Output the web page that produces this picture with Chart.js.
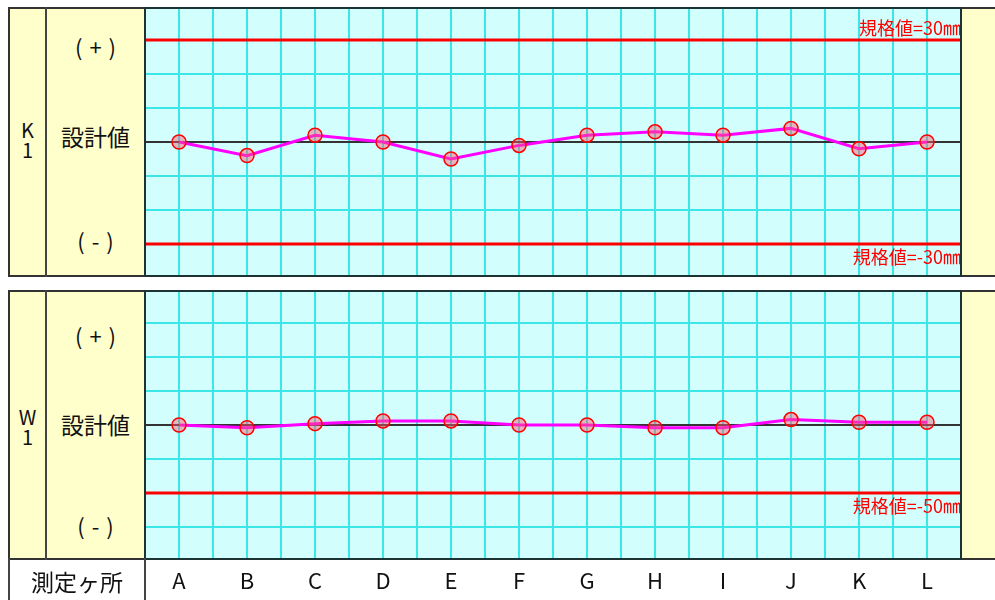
<!DOCTYPE html>
<html>
<head>
<meta charset="utf-8">
<script src="https://cdn.jsdelivr.net/npm/chart.js@4.4.1/dist/chart.umd.min.js"></script>
<style>
  body { margin: 0; background: #fff; font-family: "Noto Sans CJK JP", "Noto Sans", sans-serif; }
  #wrap { position: relative; width: 995px; height: 600px; overflow: hidden; }
  .abs { position: absolute; box-sizing: border-box; }
  .panel { background: #ffffcc; border: 2px solid #333; border-right: none; }
  .vline { background: #444; width: 2px; }
  .frame { border: 2px solid #1c3333; pointer-events: none; }
  .lbl { position: absolute; box-sizing: border-box; display: flex; align-items: center; justify-content: center;
         text-align: center; color: #111; white-space: nowrap; }
  .pm { font-size: 22px; letter-spacing: 7px; padding-left: 7px; }
  canvas { position: absolute; }
</style>
</head>
<body>
<div id="wrap">
  <!-- 上段 K1 -->
  <div class="abs panel" style="left:8px;top:7px;width:987px;height:270px;"></div>
  <div class="abs vline" style="left:45px;top:7px;height:270px;"></div>
  <div class="lbl" style="left:9px;top:119px;width:37px;height:42px;font-size:20px;line-height:20px;">K<br>1</div>
  <div class="lbl pm" style="left:46px;top:31px;width:99px;height:30px;">(+)</div>
  <div class="lbl" style="left:46px;top:121px;width:99px;height:30px;font-size:23px;">設計値</div>
  <div class="lbl pm" style="left:46px;top:225px;width:99px;height:30px;">(-)</div>
  <canvas id="chart-k1" width="816" height="268" style="left:145px;top:8px;"></canvas>
  <div class="abs frame" style="left:144px;top:7px;width:818px;height:270px;"></div>

  <!-- 下段 W1 -->
  <div class="abs panel" style="left:8px;top:290px;width:987px;height:270px;"></div>
  <div class="abs vline" style="left:45px;top:290px;height:270px;"></div>
  <div class="lbl" style="left:9px;top:406px;width:37px;height:42px;font-size:20px;line-height:20px;">W<br>1</div>
  <div class="lbl pm" style="left:46px;top:320px;width:99px;height:30px;">(+)</div>
  <div class="lbl" style="left:46px;top:409px;width:99px;height:30px;font-size:23px;">設計値</div>
  <div class="lbl pm" style="left:46px;top:510px;width:99px;height:30px;">(-)</div>
  <canvas id="chart-w1" width="816" height="309" style="left:145px;top:291px;"></canvas>
  <div class="abs frame" style="left:144px;top:290px;width:818px;height:270px;"></div>

  <!-- 測定ヶ所 -->
  <div class="abs" style="left:8px;top:558px;width:138px;height:42px;border-left:2px solid #444;border-right:2px solid #444;"></div>
  <div class="lbl" style="left:10px;top:566px;width:134px;height:30px;font-size:23px;">測定ヶ所</div>
</div>

<script>
const points   = ['A', 'B', 'C', 'D', 'E', 'F', 'G', 'H', 'I', 'J', 'K', 'L'];
const k1Values = [0, -4, 2, 0, -5, -1, 2, 3, 2, 4, -2, 0];
const w1Values = [0, -2, 1, 3, 3, 0, 0, -2, -2, 4, 2, 2];

const k1Spec  = [30, -30];
const w1Spec  = [-50];
const k1YTicks = [-30, -20, -10, 0, 10, 20, 30];
const w1YTicks = [-75, -50, -25, 0, 25, 50, 75];
const k1Range = 39.4;
const w1Range = 98.5;

const BG = '#d2fefe', GRID = '#3ae6e6', ZERO = '#333';

// 背景色
const plotBg = {
  id: 'plotBg',
  beforeDraw(chart) {
    const { ctx, chartArea: a } = chart;
    ctx.save();
    ctx.fillStyle = BG;
    ctx.fillRect(a.left, a.top, a.right - a.left, a.bottom - a.top);
    ctx.restore();
  }
};

// 規格値ラベル
const specLabels = {
  id: 'specLabels',
  afterDatasetsDraw(chart, args, opts) {
    const { ctx, scales: { x, y } } = chart;
    ctx.save();
    ctx.font = '18px "Noto Sans CJK JP"';
    ctx.fillStyle = '#ff0000';
    ctx.textAlign = 'right';
    (opts.values || []).forEach(v => {
      const py = y.getPixelForValue(v);
      const txt = '規格値=' + v + '㎜';
      if (v > 0) { ctx.textBaseline = 'bottom'; ctx.fillText(txt, x.right, py - 3); }
      else       { ctx.textBaseline = 'top';    ctx.fillText(txt, x.right, py + 4); }
    });
    ctx.restore();
  }
};

function makeChart(id, values, spec, yTicks, range, showLabels) {
  const line = points.map((p, i) => ({ x: i + 0.5, y: values[i] }));
  const specSets = spec.map(v => ({
    data: [{ x: 0, y: v }, { x: points.length, y: v }],
    borderColor: '#ff0000', borderWidth: 3, pointRadius: 0
  }));
  return new Chart(document.getElementById(id), {
    type: 'line',
    data: {
      datasets: [
        { data: line, borderColor: '#ff00ff', borderWidth: 3, tension: 0,
          pointRadius: 7, pointBorderWidth: 1.5, pointBorderColor: '#ff0000',
          pointBackgroundColor: 'rgba(255,90,110,0.45)' },
        ...specSets
      ]
    },
    options: {
      responsive: false, animation: false, events: [],
      layout: { padding: 0, autoPadding: false },
      plugins: { legend: { display: false }, tooltip: { enabled: false }, specLabels: { values: spec } },
      scales: {
        x: {
          type: 'linear', min: 0, max: points.length,
          border: { display: false },
          grid: { color: GRID, lineWidth: 2, drawTicks: false },
          ticks: {
            display: showLabels, stepSize: 0.5, autoSkip: false, maxRotation: 0, padding: 8,
            color: '#111', font: { size: 22, family: '"Noto Sans CJK JP"' },
            callback: v => (v % 1 === 0.5 ? points[Math.floor(v)] : '')
          },
          afterFit: s => { s.height = showLabels ? 41 : 0; s.paddingLeft = 0; s.paddingRight = 0; }
        },
        y: {
          min: -range, max: range,
          border: { display: false },
          afterBuildTicks: s => { s.ticks = yTicks.map(v => ({ value: v })); },
          grid: {
            drawTicks: false, lineWidth: 2,
            color: c => (c.tick && c.tick.value === 0 ? ZERO : GRID)
          },
          ticks: { display: false },
          afterFit: s => { s.width = 0; s.paddingTop = 0; s.paddingBottom = 0; }
        }
      }
    },
    plugins: [plotBg, specLabels]
  });
}

makeChart('chart-k1', k1Values, k1Spec, k1YTicks, k1Range, false);
makeChart('chart-w1', w1Values, w1Spec, w1YTicks, w1Range, true);
</script>
</body>
</html>
